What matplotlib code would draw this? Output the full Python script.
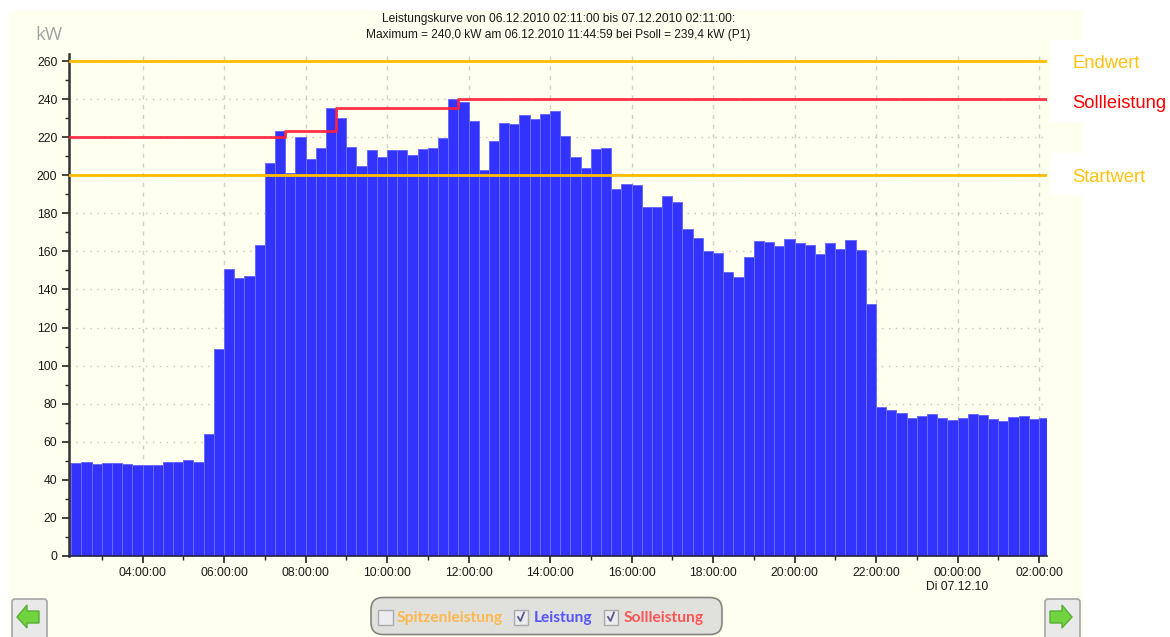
import numpy as np
import matplotlib
matplotlib.use("Agg")
import matplotlib.pyplot as plt
from matplotlib.patches import Rectangle, FancyBboxPatch, Polygon

plt.rcParams['font.family'] = ['Liberation Sans', 'DejaVu Sans']

# Leistung, 15 min bars, the first one starts at 02:00 and is cut off by the axis at 02:11
leistung = [48.8, 48.8, 49.5, 48.3, 48.6, 48.6, 48.3, 47.8, 48.0, 47.8, 49.3, 49.6, 50.2, 49.5,
            64.0, 108.6, 150.9, 145.8, 147.2, 163.5,
            206.6, 223.4, 201.0, 219.9, 208.3, 214.4, 235.5, 230.0, 214.9, 204.7,
            213.5, 209.5, 213.2, 213.3, 210.7, 214.0, 214.2, 219.4, 240.0, 238.4,
            228.7, 202.6, 218.2, 227.4, 227.0, 231.5, 229.4, 232.2, 234.0, 220.8,
            209.5, 204.0, 213.7, 214.5,
            192.8, 195.6, 194.8, 183.2, 183.4, 189.3, 185.8, 171.7, 167.0, 160.1,
            159.3, 149.1, 146.5, 157.2, 165.6, 164.7, 163.1, 166.3, 164.2, 163.3,
            158.9, 164.5, 161.2, 165.9, 160.7, 132.4,
            78.4, 76.7, 74.9, 72.5, 73.7, 74.4, 72.5, 71.6,
            72.3, 74.8, 73.9, 71.8, 71.1, 73.0, 73.5, 71.8, 72.3]
bar_start = 2.0
bar_width = 0.25

# Sollleistung steps (hours, kW)
soll_zeit = [2 + 11 / 60, 7.5, 8.75, 11.75, 26 + 11 / 60]
soll_wert = [220, 223.5, 235.5, 240, 240]

endwert = 260
startwert = 200

x_ticks = [4, 6, 8, 10, 12, 14, 16, 18, 20, 22, 24, 26]
x_labels = ['04:00:00', '06:00:00', '08:00:00', '10:00:00', '12:00:00', '14:00:00', '16:00:00',
            '18:00:00', '20:00:00', '22:00:00', '00:00:00\nDi 07.12.10', '02:00:00']
x_minor = [3, 5, 7, 9, 11, 13, 15, 17, 19, 21, 23, 25]
y_ticks = list(range(0, 261, 20))
y_minor = list(range(10, 260, 20))

BG = '#FFFFF0'
BLUE = '#3333FF'
ORANGE = '#FFBC00'
RED = '#FF2038'

fig = plt.figure(figsize=(11.7, 6.37), dpi=100, facecolor='white')

# background layer in pixel coordinates
bg = fig.add_axes([0, 0, 1, 1], zorder=0)
bg.set_xlim(0, 1170)
bg.set_ylim(637, 0)
bg.axis('off')
bg.add_patch(Rectangle((9, 10), 1074, 627, fc=BG, ec='none'))
bg.add_patch(Rectangle((1051, 40), 40, 82, fc='white', ec='none'))
bg.add_patch(Rectangle((1051, 153), 40, 42, fc='white', ec='none'))

bg.text(35, 35, 'kW', fontsize=13.5, color='#A0A4A4', va='center', family=['Open Sans', 'DejaVu Sans'])
bg.text(558.5, 19, 'Leistungskurve von 06.12.2010 02:11:00 bis 07.12.2010 02:11:00:',
        fontsize=8.65, color='#1A1A1A', ha='center', va='center')
bg.text(558.5, 35, 'Maximum = 240,0 kW am 06.12.2010 11:44:59 bei Psoll = 239,4 kW (P1)',
        fontsize=8.6, color='#1A1A1A', ha='center', va='center')

bg.text(1072, 62, 'Endwert', fontsize=13.2, color='#FFC20E', va='center_baseline')
bg.text(1072, 101, 'Sollleistung', fontsize=13.2, color='#FF0000', va='center_baseline')
bg.text(1072, 175, 'Startwert', fontsize=13.2, color='#FFC20E', va='center_baseline')

# legend box
box = FancyBboxPatch((381, 607.5), 331, 17, boxstyle='round,pad=10,rounding_size=12',
                     fc='#E0E0DC', ec='#85857D', lw=1.2)
bg.add_patch(box)
for x0, checked in [(378, False), (513.5, True), (603.5, True)]:
    bg.add_patch(Rectangle((x0, 609.5), 14.5, 15.5, fc='#EBEBF0', ec='#ABABAB', lw=1))
    if checked:
        bg.plot([x0 + 4.5, x0 + 7, x0 + 10.5], [617, 621, 612.5], color='#5A5A90', lw=1.3)
for x0, txt, col in [(397, 'Spitzenleistung', '#FFB84D'), (534, 'Leistung', '#5555FF'),
                     (624, 'Sollleistung', '#FF5555')]:
    bg.text(x0, 618, txt, fontsize=11.2, fontweight='bold', color=col, va='center', family=['Lato', 'DejaVu Sans'])

# arrow buttons
bg.add_patch(FancyBboxPatch((14, 601), 31, 40, boxstyle='round,pad=2,rounding_size=3',
                            fc='#E9E9E9', ec='#A5A5A5', lw=1.2))
bg.add_patch(FancyBboxPatch((1047, 601), 31, 40, boxstyle='round,pad=2,rounding_size=3',
                            fc='#E9E9E9', ec='#A5A5A5', lw=1.2))
bg.add_patch(Polygon([(17, 617), (27, 605), (27, 611), (39, 611), (39, 623), (27, 623), (27, 628)],
                     fc='#6FD43E', ec='#5AAE38', lw=1))
bg.add_patch(Polygon([(1072, 617), (1062, 605), (1062, 611), (1050, 611), (1050, 623), (1062, 623), (1062, 628)],
                     fc='#6FD43E', ec='#5AAE38', lw=1))

# chart
ax = fig.add_axes([68.5 / 1170, (637 - 556) / 637, 978 / 1170, 502 / 637], zorder=1)
ax.patch.set_alpha(0)
x = bar_start + np.arange(len(leistung)) * bar_width
ax.bar(x, leistung, width=bar_width, align='edge', color=BLUE, edgecolor='#6A6AFF', linewidth=0.7, zorder=2)
ax.step(soll_zeit, soll_wert, where='post', color=RED, lw=2.0, alpha=0.92, zorder=4)
ax.axhline(endwert, color=ORANGE, lw=2.0, zorder=3)
ax.axhline(startwert, color=ORANGE, lw=2.0, zorder=3)

ax.set_xlim(2 + 11 / 60, 26 + 11 / 60)
ax.set_ylim(0, 263.7)
ax.set_xticks(x_ticks)
ax.set_xticklabels(x_labels, fontsize=8.7, color='#1A1A1A', linespacing=1.25)
ax.set_xticks(x_minor, minor=True)
ax.set_yticks(y_ticks)
ax.set_yticklabels(y_ticks, fontsize=8.7, color='#1A1A1A')
ax.set_yticks(y_minor, minor=True)
ax.tick_params(axis='both', which='major', length=5, width=1.2, color='#222222', pad=3)
ax.tick_params(axis='both', which='minor', length=3, width=1.0, color='#222222')
ax.grid(True, axis='y', which='major', linestyle=(0, (1, 4)), color='#C4C4B8', lw=1)
ax.grid(True, axis='x', which='major', linestyle=(0, (3, 4)), color='#D0D0C6', lw=1)
ax.set_axisbelow(True)

ax.spines['top'].set_visible(False)
ax.spines['right'].set_visible(False)
ax.spines['left'].set_color('#333333')
ax.spines['left'].set_linewidth(1.8)
ax.spines['bottom'].set_color('#222244')
ax.spines['bottom'].set_linewidth(1.2)

fig.savefig('out.png', dpi=100)
